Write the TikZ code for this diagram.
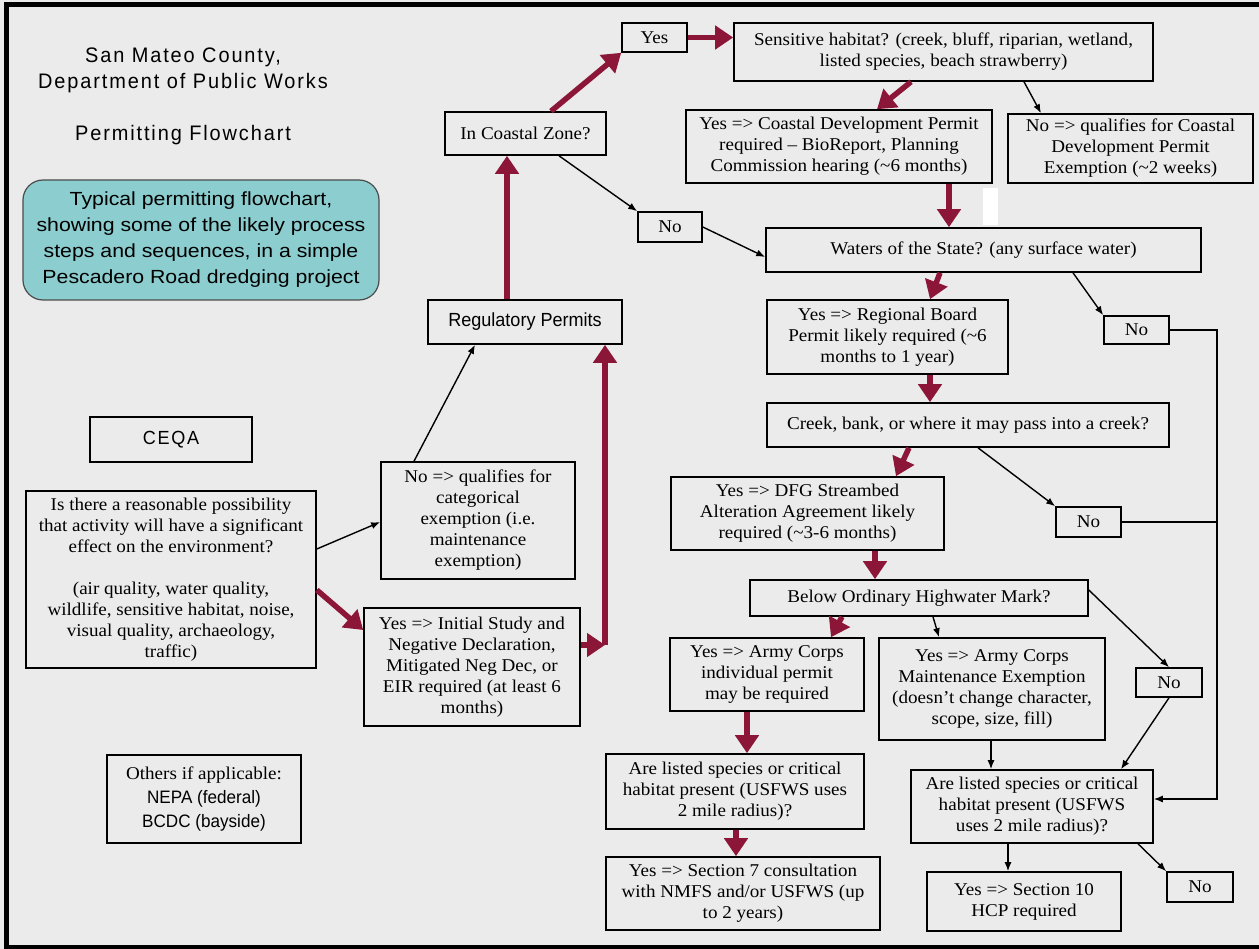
\documentclass[tikz,border=0pt]{standalone}
\usepackage{fontspec}
\setmainfont[FakeStretch=1.06]{Liberation Serif}
\newfontfamily\narrowsf[FakeStretch=0.95]{Liberation Sans}
\newfontfamily\spacedsf[FakeStretch=0.95,LetterSpace=9]{Liberation Sans}
\newfontfamily\notesf[FakeStretch=1.12]{Liberation Sans}
\usetikzlibrary{arrows.meta}
\definecolor{pageGray}{RGB}{235,235,235}
\definecolor{permRed}{RGB}{139,22,56}
\definecolor{noteTeal}{RGB}{140,205,207}
\tikzset{
	box/.style={draw, line width=1.6pt, inner sep=0pt, align=center, font=\fontsize{18}{21}\selectfont},
	redArrow/.style={permRed, line width=5.5pt, -{Triangle[length=18pt,width=23pt]}},
	thinArrow/.style={line width=1.4pt, -{Latex[length=9pt,width=7pt]}},
}
\newcommand{\flowBox}[7][]{
	\node[box, #1, minimum width={(#5-#3)*1pt}, minimum height={(#6-#4)*1pt}] (#2) at ({(#3+#5)/2},{(#4+#6)/2}) {#7};
}

\begin{document}
\begin{tikzpicture}[x=1pt, y=-1pt]
	\useasboundingbox (0,0) rectangle (1259,949);
	\fill[pageGray] (0,0) rectangle (1259,949);
	\draw[line width=5pt] (1265,5) -- (6,5) -- (6,947) -- (1265,947);
	% headings
	\node[font=\spacedsf\fontsize{21}{26}\selectfont, align=center] (county) at (183,70) {San Mateo County,\\Department of Public Works};
	\node[font=\spacedsf\fontsize{21}{26}\selectfont] (chartTitle) at (183,135) {Permitting Flowchart};
	\node[draw=black!70, line width=1.2pt, fill=noteTeal, rounded corners=20pt, minimum width=356pt, minimum height=120pt, inner sep=0pt, align=center, font=\notesf\fontsize{19}{26}\selectfont] (note) at (201,240) {Typical permitting flowchart,\\showing some of the likely process\\steps and sequences, in a simple\\Pescadero Road dredging project};

	% CEQA side
	\flowBox[font=\spacedsf\fontsize{19}{22}\selectfont]{ceqa}{90}{417}{252}{462}{CEQA}
	\flowBox{question}{26}{491}{316}{668}{Is there a reasonable possibility\\that activity will have a significant\\effect on the environment?\\[21pt](air quality, water quality,\\wildlife, sensitive habitat, noise,\\visual quality, archaeology,\\traffic)}
	\flowBox{catex}{381}{462}{575}{579}{No => qualifies for\\categorical\\exemption (i.e.\\maintenance\\exemption)}
	\flowBox{initial}{364}{608}{580}{726}{Yes => Initial Study and\\Negative Declaration,\\Mitigated Neg Dec, or\\EIR required (at least 6\\months)}
	\flowBox[font=\fontsize{18}{24}\selectfont]{others}{107}{755}{301}{843}{Others if applicable:\\{\narrowsf NEPA (federal)}\\{\narrowsf BCDC (bayside)}}
	\flowBox[font=\narrowsf\fontsize{19}{22}\selectfont]{regperm}{428}{300}{622}{344}{Regulatory Permits}

	% coastal zone
	\flowBox{coastal}{445}{112}{606}{155}{In Coastal Zone?}
	\flowBox{yes}{622}{23}{687}{52}{Yes}
	\flowBox{habitat}{734}{23}{1153}{81}{Sensitive habitat? (creek, bluff, riparian, wetland,\\listed species, beach strawberry)}
	\flowBox{cdp}{686}{110}{992}{183}{Yes => Coastal Development Permit\\required -- BioReport, Planning\\Commission hearing (\textasciitilde6 months)}
	\flowBox{cdpExempt}{1008}{114}{1253}{183}{No => qualifies for Coastal\\Development Permit\\Exemption (\textasciitilde2 weeks)}
	\flowBox{noLeft}{638}{212}{702}{242}{No}
	\fill[white] (983,188) rectangle (998,225);

	% waters
	\flowBox{waters}{766}{228}{1201}{272}{Waters of the State? (any surface water)}
	\flowBox{noWaters}{1104}{316}{1169}{344}{No}
	\flowBox{regional}{767}{300}{1008}{374}{Yes => Regional Board\\Permit likely required (\textasciitilde6\\months to 1 year)}
	\flowBox{creek}{767}{403}{1169}{447}{Creek, bank, or where it may pass into a creek?}
	\flowBox{dfg}{671}{477}{944}{550}{Yes => DFG Streambed\\Alteration Agreement likely\\required (\textasciitilde3-6 months)}
	\flowBox{noCreek}{1056}{507}{1121}{537}{No}
	\flowBox{below}{750}{580}{1088}{616}{Below Ordinary Highwater Mark?}
	\flowBox{armyInd}{670}{638}{864}{711}{Yes => Army Corps\\individual permit\\may be required}
	\flowBox{armyMaint}{879}{638}{1105}{740}{Yes => Army Corps\\Maintenance Exemption\\(doesn't change character,\\scope, size, fill)}
	\flowBox{noBelow}{1136}{668}{1202}{697}{No}
	\flowBox{listedLeft}{606}{754}{864}{829}{Are listed species or critical\\habitat present (USFWS uses\\2 mile radius)?}
	\flowBox{listedRight}{911}{770}{1153}{843}{Are listed species or critical\\habitat present (USFWS\\uses 2 mile radius)?}
	\flowBox{sectionSeven}{606}{857}{880}{930}{Yes => Section 7 consultation\\with NMFS and/or USFWS (up\\to 2 years)}
	\flowBox{sectionTen}{927}{872}{1121}{931}{Yes => Section 10\\HCP required}
	\flowBox{noLast}{1167}{872}{1233}{902}{No}

	% red main path
	\draw[redArrow] (507,0 |- regperm.north) -- (507,0 |- coastal.south);
	\draw[redArrow] (551,0 |- coastal.north) -- (yes.south west);
	\draw[redArrow] (yes.east) -- (yes.east -| habitat.west);
	\draw[redArrow] (911,0 |- habitat.south) -- (877,0 |- cdp.north);
	\draw[redArrow] (949,0 |- cdp.south) -- (949,0 |- waters.north);
	\draw[redArrow] (940,0 |- waters.south) -- (930,0 |- regional.north);
	\draw[redArrow] (930,0 |- regional.south) -- (930,0 |- creek.north);
	\draw[redArrow] (909,0 |- creek.south) -- (896,0 |- dfg.north);
	\draw[redArrow] (875,0 |- dfg.south) -- (875,0 |- below.north);
	\draw[redArrow] (842,0 |- below.south) -- (831,0 |- armyInd.north);
	\draw[redArrow] (747,0 |- armyInd.south) -- (747,0 |- listedLeft.north);
	\draw[redArrow] (736,0 |- listedLeft.south) -- (736,0 |- sectionSeven.north);
	\draw[redArrow] (0,590 -| question.east) -- (0,630 -| initial.west);
	\coordinate (permTurn) at (605,645);
	\draw[redArrow] (initial.east |- permTurn) -- (permTurn);
	\draw[redArrow] (permTurn) -- (permTurn |- regperm.south);

	% thin connectors
	\coordinate (rail) at (1217,799);
	\draw[thinArrow] (0,549 -| question.east) -- (0,522 -| catex.west);
	\draw[thinArrow] (414,0 |- catex.north) -- (475,0 |- regperm.south);
	\draw[thinArrow] (559,0 |- coastal.south) -- (noLeft.north west);
	\draw[thinArrow] (noLeft.east) -- (0,257 -| waters.west);
	\draw[thinArrow] (1024,0 |- habitat.south) -- (1041,0 |- cdpExempt.north);
	\draw[thinArrow] (1073,0 |- waters.south) -- (noWaters.north west);
	\draw[thinArrow] (noWaters.east) -| (rail) -- (rail -| listedRight.east);
	\draw[line width=1.4pt] (noCreek.east) -- (noCreek.east -| rail);
	\draw[thinArrow] (978,0 |- creek.south) -- (noCreek.north west);
	\draw[thinArrow] (0,590 -| below.east) -- (noBelow.north);
	\draw[thinArrow] (933,0 |- below.south) -- (939,0 |- armyMaint.north);
	\draw[thinArrow] (noBelow.south) -- (1121,0 |- listedRight.north);
	\draw[thinArrow] (991,0 |- armyMaint.south) -- (991,0 |- listedRight.north);
	\draw[thinArrow] (1008,0 |- listedRight.south) -- (1008,0 |- sectionTen.north);
	\draw[thinArrow] (1138,0 |- listedRight.south) -- (noLast.north west);
\end{tikzpicture}
\end{document}
